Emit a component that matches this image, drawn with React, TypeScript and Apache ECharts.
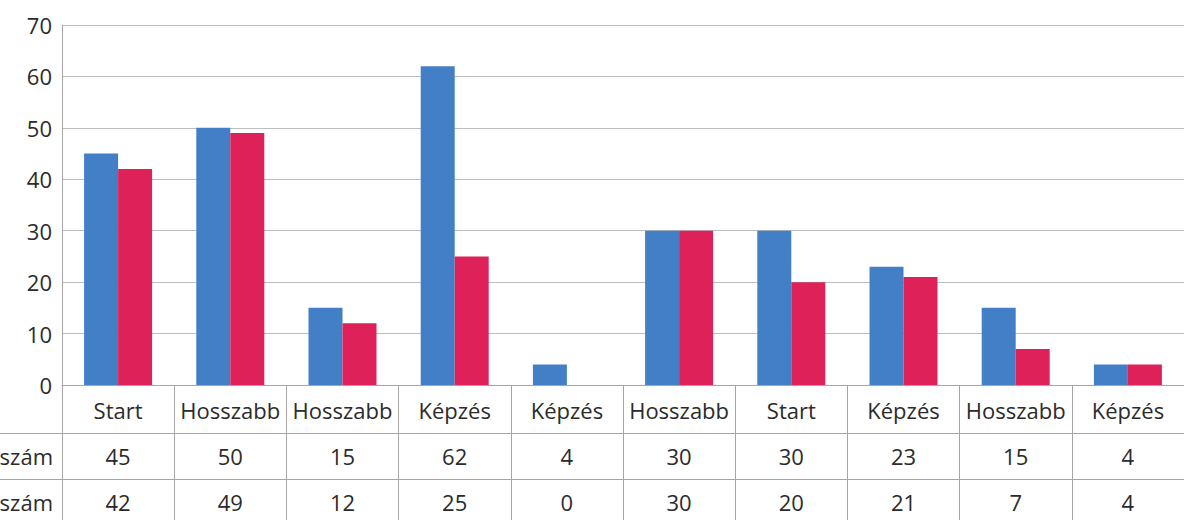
import React, { useEffect, useRef } from "react";
import * as echarts from "echarts";

const categories = ["Start", "Hosszabb", "Hosszabb", "Képzés", "Képzés", "Hosszabb", "Start", "Képzés", "Hosszabb", "Képzés"];
const seriesNames = ["Tervezett létszám", "Tényleges létszám"];
const rowLabels = ["szám", "szám"];
const blueValues = [45, 50, 15, 62, 4, 30, 30, 23, 15, 4];
const redValues = [42, 49, 12, 25, 0, 30, 20, 21, 7, 4];
const yTicks = { min: 0, max: 70, interval: 10 };

const FONT = "'Open Sans', Lato, sans-serif";
const TEXT = "#2b2b2b";
const LINE = "#a6a6a6";

export default function App() {
  const ref = useRef<HTMLDivElement>(null);
  useEffect(() => {
    if (!ref.current) return;
    const chart = echarts.init(ref.current, undefined, { renderer: "svg" });
    chart.setOption({
      animation: false,
      backgroundColor: "#ffffff",
      grid: { left: 62, right: 0, top: 25, bottom: 135, containLabel: false, outerBoundsMode: "none" },
      xAxis: {
        type: "category",
        data: categories,
        boundaryGap: true,
        axisLine: { show: true, lineStyle: { color: LINE, width: 1 } },
        axisTick: { show: true, interval: 0, length: 140, lineStyle: { color: LINE, width: 1 } },
        axisLabel: {
          interval: 0,
          margin: 2,
          fontFamily: FONT,
          fontSize: 22,
          color: TEXT,
          lineHeight: 46,
          hideOverlap: false,
          formatter: (v: string, i: number) => `${v}\n${blueValues[i]}\n${redValues[i]}`,
        },
      },
      yAxis: {
        type: "value",
        min: yTicks.min,
        max: yTicks.max,
        interval: yTicks.interval,
        axisLine: { show: true, lineStyle: { color: LINE, width: 1 } },
        axisTick: { show: false },
        axisLabel: { margin: 10, fontFamily: FONT, fontSize: 22, color: TEXT },
        splitLine: { show: true, lineStyle: { color: "#bdbdbd", width: 1 } },
      },
      series: [
        {
          name: seriesNames[0],
          type: "bar",
          data: blueValues,
          barWidth: 34,
          barGap: "0%",
          itemStyle: { color: "#437fc7" },
        },
        {
          name: seriesNames[1],
          type: "bar",
          data: redValues,
          barWidth: 34,
          barGap: "0%",
          itemStyle: { color: "#de2259" },
        },
      ],
      graphic: [
        { type: "line", shape: { x1: 0, y1: 433.5, x2: 1184, y2: 433.5 }, style: { stroke: LINE, lineWidth: 1 } },
        { type: "line", shape: { x1: 0, y1: 479.5, x2: 1184, y2: 479.5 }, style: { stroke: LINE, lineWidth: 1 } },
        {
          type: "text",
          x: 53,
          y: 456,
          style: { text: rowLabels[0], font: `22px ${FONT}`, fill: TEXT, textAlign: "right", textVerticalAlign: "middle" },
        },
        {
          type: "text",
          x: 53,
          y: 502,
          style: { text: rowLabels[1], font: `22px ${FONT}`, fill: TEXT, textAlign: "right", textVerticalAlign: "middle" },
        },
      ],
    });
    return () => chart.dispose();
  }, []);
  return <div ref={ref} style={{ position: "fixed", left: 0, top: 0, width: 1184, height: 520 }} />;
}
